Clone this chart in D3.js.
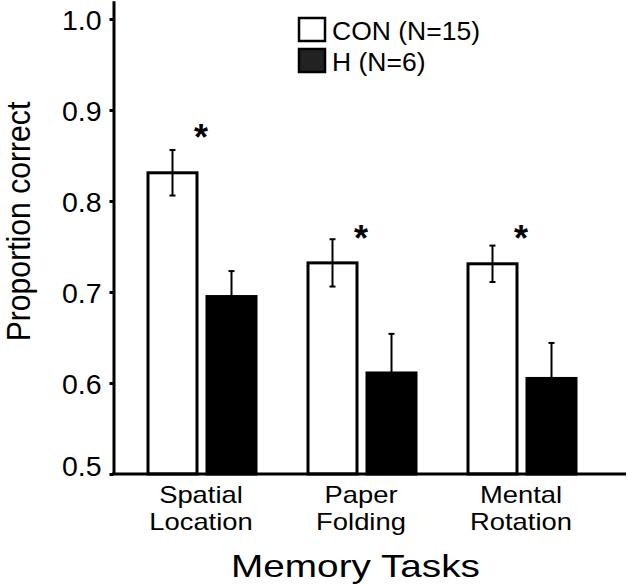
<!DOCTYPE html>
<html>
<head>
<meta charset="utf-8">
<script src="https://cdn.jsdelivr.net/npm/d3@7"></script>
<style>
  html, body { margin: 0; padding: 0; background: #fff; }
  svg { display: block; }
  text { font-family: "Liberation Sans", Arial, Helvetica, sans-serif; fill: #000; }
</style>
</head>
<body>
<svg id="chart" width="628" height="585"></svg>
<script>
// ---- data ----
const tasks = ["Spatial Location", "Paper Folding", "Mental Rotation"];
const taskLines = [["Spatial", "Location"], ["Paper", "Folding"], ["Mental", "Rotation"]];
const groups = ["CON (N=15)", "H (N=6)"];
const conMeans = [0.831, 0.732, 0.731];
const conErr = [0.025, 0.026, 0.020];
const hMeans = [0.695, 0.611, 0.605];
const hErr = [0.028, 0.043, 0.039];
const starValues = [0.878, 0.767, 0.767];
const yTicks = [0.5, 0.6, 0.7, 0.8, 0.9, 1.0];
const yLabel = "Proportion correct";
const xLabel = "Memory Tasks";

// ---- layout ----
const svg = d3.select("#chart");
const axisX = 113.5, baseY = 474;

const y = d3.scaleLinear().domain([0.5, 1.02]).range([baseY, baseY - 0.52 * 910]);
const x0 = d3.scaleBand().domain(tasks).range([122, 602]).paddingInner(0.325).paddingOuter(0.1625);
const x1 = d3.scaleBand().domain(groups).range([0, x0.bandwidth()]).paddingInner(10 / 59);

const fills = { "CON (N=15)": "#fff", "H (N=6)": "#000" };

function stretch(sel, factor) {
  sel.each(function () {
    const w = this.getComputedTextLength();
    d3.select(this).attr("textLength", w * factor).attr("lengthAdjust", "spacingAndGlyphs");
  });
}

const rows = tasks.map((t, i) => ({
  task: t,
  bars: [
    { group: groups[0], v: conMeans[i], e: conErr[i] },
    { group: groups[1], v: hMeans[i], e: hErr[i] }
  ],
  star: starValues[i],
  lines: taskLines[i]
}));

// bars
const g = svg.append("g");
const tg = g.selectAll("g.task").data(rows).join("g")
  .attr("class", "task")
  .attr("transform", d => `translate(${x0(d.task)},0)`);

tg.selectAll("rect").data(d => d.bars).join("rect")
  .attr("x", d => x1(d.group))
  .attr("y", d => y(d.v))
  .attr("width", x1.bandwidth())
  .attr("height", d => baseY - y(d.v))
  .attr("fill", d => fills[d.group])
  .attr("stroke", "#000")
  .attr("stroke-width", 3);

// error bars
const eb = tg.selectAll("g.err").data(d => d.bars).join("g").attr("class", "err");
eb.append("line")
  .attr("x1", d => x1(d.group) + x1.bandwidth() / 2)
  .attr("x2", d => x1(d.group) + x1.bandwidth() / 2)
  .attr("y1", d => y(d.v + d.e))
  .attr("y2", d => y(d.v - d.e))
  .attr("stroke", "#000").attr("stroke-width", 2);
eb.selectAll("line.cap").data(d => [{ d, v: d.v + d.e }, { d, v: d.v - d.e }]).join("line")
  .attr("class", "cap")
  .attr("x1", o => x1(o.d.group) + x1.bandwidth() / 2 - 3)
  .attr("x2", o => x1(o.d.group) + x1.bandwidth() / 2 + 3)
  .attr("y1", o => y(o.v)).attr("y2", o => y(o.v))
  .attr("stroke", "#000").attr("stroke-width", 2);

// stars
tg.append("text")
  .attr("x", x0.bandwidth() / 2 - 1)
  .attr("y", d => y(d.star) + 20)
  .attr("text-anchor", "middle")
  .attr("font-size", 36)
  .attr("font-weight", "bold")
  .text("*");

// category labels
tg.each(function (d) {
  d.lines.forEach((l, k) => {
    d3.select(this).append("text")
      .attr("x", x0.bandwidth() / 2 - 1)
      .attr("y", k === 0 ? 503 : 529.5)
      .attr("text-anchor", "middle")
      .attr("font-size", 24)
      .text(l)
      .call(stretch, 1.14);
  });
});

// y axis
const ya = svg.append("g")
  .attr("transform", `translate(${axisX},0)`)
  .call(d3.axisLeft(y).tickValues(yTicks).tickFormat(d3.format(".1f")).tickSize(4).tickSizeOuter(0).tickPadding(8));
ya.select(".domain").attr("stroke", "#000").attr("stroke-width", 3);
ya.selectAll(".tick line").attr("stroke", "#000").attr("stroke-width", 3);
ya.selectAll(".tick text")
  .attr("font-size", 28.5)
  .attr("font-family", "'Liberation Sans', Arial, Helvetica, sans-serif")
  .attr("dy", d => d === 0.5 ? "0.04em" : "0.38em");

// x axis baseline
svg.append("line")
  .attr("x1", axisX - 1.5).attr("x2", 626)
  .attr("y1", baseY).attr("y2", baseY)
  .attr("stroke", "#000").attr("stroke-width", 3);

// axis titles
svg.append("text")
  .attr("transform", `translate(30,221.5) rotate(-90)`)
  .attr("text-anchor", "middle")
  .attr("font-size", 33.5)
  .text(yLabel)
  .call(stretch, 0.9);

svg.append("text")
  .attr("x", 355.5).attr("y", 577)
  .attr("text-anchor", "middle")
  .attr("font-size", 32)
  .text(xLabel)
  .call(stretch, 1.21);

// legend
const leg = svg.append("g");
const legRows = leg.selectAll("g").data(groups).join("g")
  .attr("transform", (d, i) => `translate(299,${18 + i * 31})`);
legRows.append("rect")
  .attr("width", 26).attr("height", 23)
  .attr("fill", d => d === groups[0] ? "#fff" : "#222")
  .attr("stroke", "#000").attr("stroke-width", 2.5);
legRows.append("text")
  .attr("x", 33).attr("y", 21.5)
  .attr("font-size", 25)
  .text(d => d)
  .call(stretch, 1.06);
</script>
</body>
</html>
